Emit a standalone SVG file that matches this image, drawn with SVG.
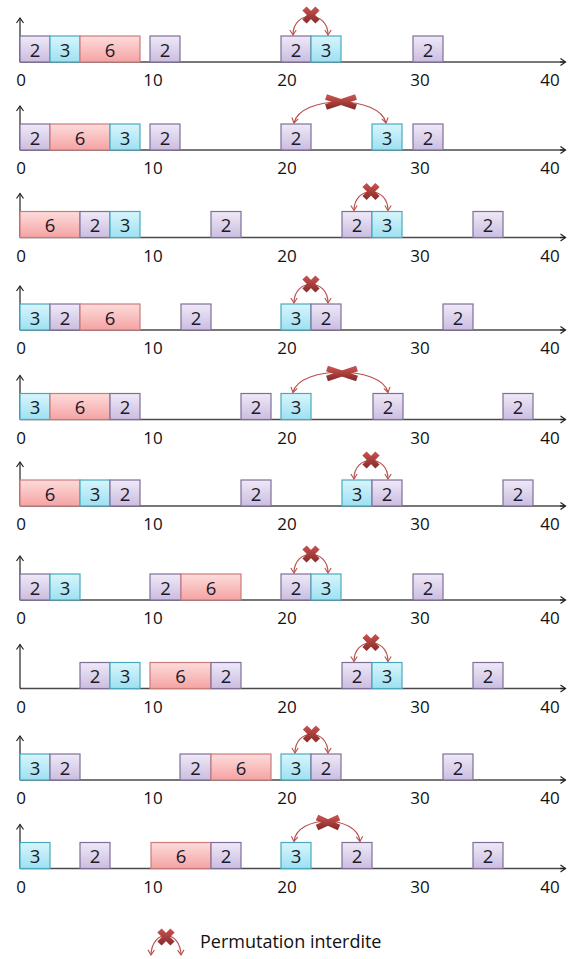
<svg xmlns="http://www.w3.org/2000/svg" width="568" height="959" viewBox="0 0 568 959">
<style>
.p{fill:url(#gp);stroke:#7f6f98;stroke-width:1.2}
.c{fill:url(#gc);stroke:#4aa8c0;stroke-width:1.2}
.r{fill:url(#gr);stroke:#cc7b7b;stroke-width:1.2}
.t{font-family:"Open Sans","Liberation Sans",sans-serif;font-size:18.5px;fill:#1a1a2a;text-anchor:middle}
.lab{font-family:"Open Sans","Liberation Sans",sans-serif;font-size:17px;fill:#111;text-anchor:middle}
.ax{stroke:#4a4a4a;stroke-width:1.4;fill:none}
.axa{stroke:#222;stroke-width:1.2;fill:none;marker-end:url(#ah)}
.arc{stroke:#b9504e;stroke-width:1.2;fill:none;marker-start:url(#aa);marker-end:url(#aa)}
.x{stroke:url(#gx);stroke-width:6;fill:none}
.leg{font-family:"Open Sans","Liberation Sans",sans-serif;font-size:18px;fill:#111}
</style>
<defs>
<linearGradient id="gp" x1="0" y1="0" x2="0" y2="1"><stop offset="0" stop-color="#efe9f7"/><stop offset="1" stop-color="#cbbde0"/></linearGradient>
<linearGradient id="gc" x1="0" y1="0" x2="0" y2="1"><stop offset="0" stop-color="#d8f5fb"/><stop offset="1" stop-color="#9de1f2"/></linearGradient>
<linearGradient id="gr" x1="0" y1="0" x2="0" y2="1"><stop offset="0" stop-color="#fddcdc"/><stop offset="1" stop-color="#f5a3a3"/></linearGradient>
<linearGradient id="gx" x1="0" y1="0" x2="0" y2="1"><stop offset="0" stop-color="#c24f4c"/><stop offset="1" stop-color="#8e2f2d"/></linearGradient>
<marker id="ah" viewBox="-7 -5 8 10" refX="0" refY="0" markerWidth="8" markerHeight="10" markerUnits="userSpaceOnUse" orient="auto" overflow="visible">
<path d="M-5,-3.5 L0,0 L-5,3.5" fill="none" stroke="#222" stroke-width="1.2"/>
</marker>
<marker id="aa" viewBox="-7 -5 8 10" refX="0" refY="0" markerWidth="8" markerHeight="10" markerUnits="userSpaceOnUse" orient="auto-start-reverse" overflow="visible">
<path d="M-5,-3.2 L0,0 L-5,3.2" fill="none" stroke="#b9504e" stroke-width="1.1"/>
</marker>
<g id="xn"><line class="x" x1="-6.5" y1="-6.5" x2="6.5" y2="6.5"/><line class="x" x1="-6.5" y1="6.5" x2="6.5" y2="-6.5"/></g>
<g id="xw"><line class="x" x1="-15" y1="-5" x2="15" y2="5"/><line class="x" x1="-15" y1="5" x2="15" y2="-5"/></g>
<g id="xm"><line class="x" x1="-11" y1="-5" x2="11" y2="5"/><line class="x" x1="-11" y1="5" x2="11" y2="-5"/></g>
</defs>

<g id="axes">
<line class="ax" x1="20" y1="62" x2="565" y2="62"/><path class="axa" d="M560,62 L565.5,62"/><path class="axa" d="M20,62 L20,18"/>
<line class="ax" x1="20" y1="150" x2="565" y2="150"/><path class="axa" d="M560,150 L565.5,150"/><path class="axa" d="M20,150 L20,106"/>
<line class="ax" x1="20" y1="237.5" x2="565" y2="237.5"/><path class="axa" d="M560,237.5 L565.5,237.5"/><path class="axa" d="M20,237.5 L20,193.5"/>
<line class="ax" x1="20" y1="330" x2="565" y2="330"/><path class="axa" d="M560,330 L565.5,330"/><path class="axa" d="M20,330 L20,286"/>
<line class="ax" x1="20" y1="419.5" x2="565" y2="419.5"/><path class="axa" d="M560,419.5 L565.5,419.5"/><path class="axa" d="M20,419.5 L20,375.5"/>
<line class="ax" x1="20" y1="506" x2="565" y2="506"/><path class="axa" d="M560,506 L565.5,506"/><path class="axa" d="M20,506 L20,462"/>
<line class="ax" x1="20" y1="600" x2="565" y2="600"/><path class="axa" d="M560,600 L565.5,600"/><path class="axa" d="M20,600 L20,556"/>
<line class="ax" x1="20" y1="688.5" x2="565" y2="688.5"/><path class="axa" d="M560,688.5 L565.5,688.5"/><path class="axa" d="M20,688.5 L20,644.5"/>
<line class="ax" x1="20" y1="780" x2="565" y2="780"/><path class="axa" d="M560,780 L565.5,780"/><path class="axa" d="M20,780 L20,736"/>
<line class="ax" x1="20" y1="868.5" x2="565" y2="868.5"/><path class="axa" d="M560,868.5 L565.5,868.5"/><path class="axa" d="M20,868.5 L20,824.5"/>
</g>

<g id="labels">
<g transform="translate(0,86)"><text class="lab" x="21">0</text><text class="lab" x="153">10</text><text class="lab" x="287">20</text><text class="lab" x="420">30</text><text class="lab" x="550">40</text></g>
<g transform="translate(0,174)"><text class="lab" x="21">0</text><text class="lab" x="153">10</text><text class="lab" x="287">20</text><text class="lab" x="420">30</text><text class="lab" x="550">40</text></g>
<g transform="translate(0,261.5)"><text class="lab" x="21">0</text><text class="lab" x="153">10</text><text class="lab" x="287">20</text><text class="lab" x="420">30</text><text class="lab" x="550">40</text></g>
<g transform="translate(0,354)"><text class="lab" x="21">0</text><text class="lab" x="153">10</text><text class="lab" x="287">20</text><text class="lab" x="420">30</text><text class="lab" x="550">40</text></g>
<g transform="translate(0,443.5)"><text class="lab" x="21">0</text><text class="lab" x="153">10</text><text class="lab" x="287">20</text><text class="lab" x="420">30</text><text class="lab" x="550">40</text></g>
<g transform="translate(0,530)"><text class="lab" x="21">0</text><text class="lab" x="153">10</text><text class="lab" x="287">20</text><text class="lab" x="420">30</text><text class="lab" x="550">40</text></g>
<g transform="translate(0,624)"><text class="lab" x="21">0</text><text class="lab" x="153">10</text><text class="lab" x="287">20</text><text class="lab" x="420">30</text><text class="lab" x="550">40</text></g>
<g transform="translate(0,712.5)"><text class="lab" x="21">0</text><text class="lab" x="153">10</text><text class="lab" x="287">20</text><text class="lab" x="420">30</text><text class="lab" x="550">40</text></g>
<g transform="translate(0,804)"><text class="lab" x="21">0</text><text class="lab" x="153">10</text><text class="lab" x="287">20</text><text class="lab" x="420">30</text><text class="lab" x="550">40</text></g>
<g transform="translate(0,892.5)"><text class="lab" x="21">0</text><text class="lab" x="153">10</text><text class="lab" x="287">20</text><text class="lab" x="420">30</text><text class="lab" x="550">40</text></g>
</g>

<!-- Row 1 -->
<g transform="translate(0,62)">
<g id="r1b1"><rect class="p" x="20" y="-26" width="30" height="26"/><text class="t" x="35" y="-5.5">2</text></g>
<g id="r1b2"><rect class="c" x="50" y="-26" width="30" height="26"/><text class="t" x="65" y="-5.5">3</text></g>
<g id="r1b3"><rect class="r" x="80" y="-26" width="60" height="26"/><text class="t" x="110" y="-5.5">6</text></g>
<g id="r1b4"><rect class="p" x="150" y="-26" width="30" height="26"/><text class="t" x="165" y="-5.5">2</text></g>
<g id="r1b5"><rect class="p" x="281" y="-26" width="30" height="26"/><text class="t" x="296" y="-5.5">2</text></g>
<g id="r1b6"><rect class="c" x="311" y="-26" width="30" height="26"/><text class="t" x="326" y="-5.5">3</text></g>
<g id="r1b7"><rect class="p" x="413" y="-26" width="30" height="26"/><text class="t" x="428" y="-5.5">2</text></g>
</g>
<!-- Row 2 -->
<g transform="translate(0,150)">
<g id="r2b1"><rect class="p" x="20" y="-26" width="30" height="26"/><text class="t" x="35" y="-5.5">2</text></g>
<g id="r2b2"><rect class="r" x="50" y="-26" width="60" height="26"/><text class="t" x="80" y="-5.5">6</text></g>
<g id="r2b3"><rect class="c" x="110" y="-26" width="30" height="26"/><text class="t" x="125" y="-5.5">3</text></g>
<g id="r2b4"><rect class="p" x="150" y="-26" width="30" height="26"/><text class="t" x="165" y="-5.5">2</text></g>
<g id="r2b5"><rect class="p" x="281" y="-26" width="30" height="26"/><text class="t" x="296" y="-5.5">2</text></g>
<g id="r2b6"><rect class="c" x="372" y="-26" width="30" height="26"/><text class="t" x="387" y="-5.5">3</text></g>
<g id="r2b7"><rect class="p" x="413" y="-26" width="30" height="26"/><text class="t" x="428" y="-5.5">2</text></g>
</g>
<!-- Row 3 -->
<g transform="translate(0,237.5)">
<g id="r3b1"><rect class="r" x="20" y="-26" width="60" height="26"/><text class="t" x="50" y="-5.5">6</text></g>
<g id="r3b2"><rect class="p" x="80" y="-26" width="30" height="26"/><text class="t" x="95" y="-5.5">2</text></g>
<g id="r3b3"><rect class="c" x="110" y="-26" width="30" height="26"/><text class="t" x="125" y="-5.5">3</text></g>
<g id="r3b4"><rect class="p" x="211" y="-26" width="30" height="26"/><text class="t" x="226" y="-5.5">2</text></g>
<g id="r3b5"><rect class="p" x="342" y="-26" width="30" height="26"/><text class="t" x="357" y="-5.5">2</text></g>
<g id="r3b6"><rect class="c" x="372" y="-26" width="30" height="26"/><text class="t" x="387" y="-5.5">3</text></g>
<g id="r3b7"><rect class="p" x="473" y="-26" width="30" height="26"/><text class="t" x="488" y="-5.5">2</text></g>
</g>
<!-- Row 4 -->
<g transform="translate(0,330)">
<g id="r4b1"><rect class="c" x="20" y="-26" width="30" height="26"/><text class="t" x="35" y="-5.5">3</text></g>
<g id="r4b2"><rect class="p" x="50" y="-26" width="30" height="26"/><text class="t" x="65" y="-5.5">2</text></g>
<g id="r4b3"><rect class="r" x="80" y="-26" width="60" height="26"/><text class="t" x="110" y="-5.5">6</text></g>
<g id="r4b4"><rect class="p" x="181" y="-26" width="30" height="26"/><text class="t" x="196" y="-5.5">2</text></g>
<g id="r4b5"><rect class="c" x="281" y="-26" width="30" height="26"/><text class="t" x="296" y="-5.5">3</text></g>
<g id="r4b6"><rect class="p" x="311" y="-26" width="30" height="26"/><text class="t" x="326" y="-5.5">2</text></g>
<g id="r4b7"><rect class="p" x="443" y="-26" width="30" height="26"/><text class="t" x="458" y="-5.5">2</text></g>
</g>
<!-- Row 5 -->
<g transform="translate(0,419.5)">
<g id="r5b1"><rect class="c" x="20" y="-26" width="30" height="26"/><text class="t" x="35" y="-5.5">3</text></g>
<g id="r5b2"><rect class="r" x="50" y="-26" width="60" height="26"/><text class="t" x="80" y="-5.5">6</text></g>
<g id="r5b3"><rect class="p" x="110" y="-26" width="30" height="26"/><text class="t" x="125" y="-5.5">2</text></g>
<g id="r5b4"><rect class="p" x="241" y="-26" width="30" height="26"/><text class="t" x="256" y="-5.5">2</text></g>
<g id="r5b5"><rect class="c" x="281" y="-26" width="30" height="26"/><text class="t" x="296" y="-5.5">3</text></g>
<g id="r5b6"><rect class="p" x="373" y="-26" width="30" height="26"/><text class="t" x="388" y="-5.5">2</text></g>
<g id="r5b7"><rect class="p" x="503" y="-26" width="30" height="26"/><text class="t" x="518" y="-5.5">2</text></g>
</g>
<!-- Row 6 -->
<g transform="translate(0,506)">
<g id="r6b1"><rect class="r" x="20" y="-26" width="60" height="26"/><text class="t" x="50" y="-5.5">6</text></g>
<g id="r6b2"><rect class="c" x="80" y="-26" width="30" height="26"/><text class="t" x="95" y="-5.5">3</text></g>
<g id="r6b3"><rect class="p" x="110" y="-26" width="30" height="26"/><text class="t" x="125" y="-5.5">2</text></g>
<g id="r6b4"><rect class="p" x="241" y="-26" width="30" height="26"/><text class="t" x="256" y="-5.5">2</text></g>
<g id="r6b5"><rect class="c" x="342" y="-26" width="30" height="26"/><text class="t" x="357" y="-5.5">3</text></g>
<g id="r6b6"><rect class="p" x="372" y="-26" width="30" height="26"/><text class="t" x="387" y="-5.5">2</text></g>
<g id="r6b7"><rect class="p" x="503" y="-26" width="30" height="26"/><text class="t" x="518" y="-5.5">2</text></g>
</g>
<!-- Row 7 -->
<g transform="translate(0,600)">
<g id="r7b1"><rect class="p" x="20" y="-26" width="30" height="26"/><text class="t" x="35" y="-5.5">2</text></g>
<g id="r7b2"><rect class="c" x="50" y="-26" width="30" height="26"/><text class="t" x="65" y="-5.5">3</text></g>
<g id="r7b3"><rect class="p" x="150" y="-26" width="31" height="26"/><text class="t" x="165.5" y="-5.5">2</text></g>
<g id="r7b4"><rect class="r" x="181" y="-26" width="60" height="26"/><text class="t" x="211" y="-5.5">6</text></g>
<g id="r7b5"><rect class="p" x="281" y="-26" width="30" height="26"/><text class="t" x="296" y="-5.5">2</text></g>
<g id="r7b6"><rect class="c" x="311" y="-26" width="30" height="26"/><text class="t" x="326" y="-5.5">3</text></g>
<g id="r7b7"><rect class="p" x="413" y="-26" width="30" height="26"/><text class="t" x="428" y="-5.5">2</text></g>
</g>
<!-- Row 8 -->
<g transform="translate(0,688.5)">
<g id="r8b1"><rect class="p" x="80" y="-26" width="30" height="26"/><text class="t" x="95" y="-5.5">2</text></g>
<g id="r8b2"><rect class="c" x="110" y="-26" width="30" height="26"/><text class="t" x="125" y="-5.5">3</text></g>
<g id="r8b3"><rect class="r" x="150" y="-26" width="61" height="26"/><text class="t" x="180.5" y="-5.5">6</text></g>
<g id="r8b4"><rect class="p" x="211" y="-26" width="30" height="26"/><text class="t" x="226" y="-5.5">2</text></g>
<g id="r8b5"><rect class="p" x="342" y="-26" width="30" height="26"/><text class="t" x="357" y="-5.5">2</text></g>
<g id="r8b6"><rect class="c" x="372" y="-26" width="30" height="26"/><text class="t" x="387" y="-5.5">3</text></g>
<g id="r8b7"><rect class="p" x="473" y="-26" width="30" height="26"/><text class="t" x="488" y="-5.5">2</text></g>
</g>
<!-- Row 9 -->
<g transform="translate(0,780)">
<g id="r9b1"><rect class="c" x="20" y="-26" width="30" height="26"/><text class="t" x="35" y="-5.5">3</text></g>
<g id="r9b2"><rect class="p" x="50" y="-26" width="30" height="26"/><text class="t" x="65" y="-5.5">2</text></g>
<g id="r9b3"><rect class="p" x="180" y="-26" width="31" height="26"/><text class="t" x="195.5" y="-5.5">2</text></g>
<g id="r9b4"><rect class="r" x="211" y="-26" width="60" height="26"/><text class="t" x="241" y="-5.5">6</text></g>
<g id="r9b5"><rect class="c" x="281" y="-26" width="30" height="26"/><text class="t" x="296" y="-5.5">3</text></g>
<g id="r9b6"><rect class="p" x="311" y="-26" width="30" height="26"/><text class="t" x="326" y="-5.5">2</text></g>
<g id="r9b7"><rect class="p" x="443" y="-26" width="30" height="26"/><text class="t" x="458" y="-5.5">2</text></g>
</g>
<!-- Row 10 -->
<g transform="translate(0,868.5)">
<g id="r10b1"><rect class="c" x="20" y="-26" width="30" height="26"/><text class="t" x="35" y="-5.5">3</text></g>
<g id="r10b2"><rect class="p" x="80" y="-26" width="30" height="26"/><text class="t" x="95" y="-5.5">2</text></g>
<g id="r10b3"><rect class="r" x="151" y="-26" width="60" height="26"/><text class="t" x="181" y="-5.5">6</text></g>
<g id="r10b4"><rect class="p" x="211" y="-26" width="30" height="26"/><text class="t" x="226" y="-5.5">2</text></g>
<g id="r10b5"><rect class="c" x="281" y="-26" width="30" height="26"/><text class="t" x="296" y="-5.5">3</text></g>
<g id="r10b6"><rect class="p" x="342" y="-26" width="30" height="26"/><text class="t" x="357" y="-5.5">2</text></g>
<g id="r10b7"><rect class="p" x="473" y="-26" width="30" height="26"/><text class="t" x="488" y="-5.5">2</text></g>
</g>

<g id="connectors">
<g transform="translate(0,62)"><path class="arc" d="M293,-27 C293,-52 328,-52 328,-27"/><use href="#xn" x="311" y="-47"/></g>
<g transform="translate(0,150)"><path class="arc" d="M294,-27 C300,-55 380,-55 386,-27"/><use href="#xw" x="341" y="-48"/></g>
<g transform="translate(0,237.5)"><path class="arc" d="M354,-27 C354,-52 388,-52 388,-27"/><use href="#xn" x="371" y="-46"/></g>
<g transform="translate(0,330)"><path class="arc" d="M294,-27 C294,-52 328,-52 328,-27"/><use href="#xn" x="311" y="-46"/></g>
<g transform="translate(0,419.5)"><path class="arc" d="M293,-27 C299,-54 382,-54 388,-27"/><use href="#xw" x="342" y="-46"/></g>
<g transform="translate(0,506)"><path class="arc" d="M354,-27 C354,-52 388,-52 388,-27"/><use href="#xn" x="371" y="-46"/></g>
<g transform="translate(0,600)"><path class="arc" d="M294,-27 C294,-52 328,-52 328,-27"/><use href="#xn" x="311" y="-46"/></g>
<g transform="translate(0,688.5)"><path class="arc" d="M354,-27 C354,-52 388,-52 388,-27"/><use href="#xn" x="371" y="-46"/></g>
<g transform="translate(0,780)"><path class="arc" d="M295,-27 C295,-52 328,-52 328,-27"/><use href="#xn" x="311.5" y="-46"/></g>
<g transform="translate(0,868.5)"><path class="arc" d="M294,-27 C297,-54 357,-54 360,-27"/><use href="#xm" x="328" y="-46"/></g>
</g>

<g id="legend">
<path class="arc" d="M151,955 C152,929 180,929 181,955"/>
<use href="#xn" x="166" y="937"/>
<text class="leg" x="200" y="948">Permutation interdite</text>
</g>
</svg>
